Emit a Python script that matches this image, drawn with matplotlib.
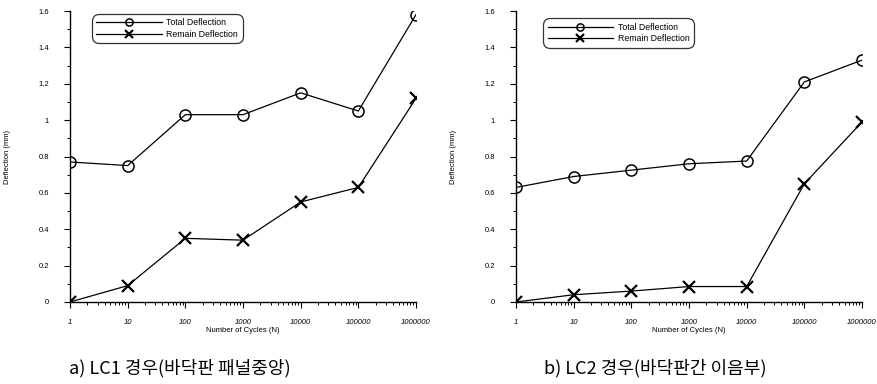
import numpy as np
import matplotlib.pyplot as plt
from matplotlib.ticker import FixedLocator, LogLocator, MultipleLocator

cycles = [1, 10, 100, 1000, 10000, 100000, 1000000]
xtick_labels = ['1', '10', '100', '1000', '10000', '100000', '1000000']
ytick_values = [0, 0.2, 0.4, 0.6, 0.8, 1.0, 1.2, 1.4, 1.6]
ytick_labels = ['0', '0.2', '0.4', '0.6', '0.8', '1', '1.2', '1.4', '1.6']

lc1_total = [0.77, 0.75, 1.03, 1.03, 1.15, 1.05, 1.58]
lc1_remain = [0.0, 0.09, 0.35, 0.34, 0.55, 0.63, 1.12]
lc2_total = [0.63, 0.69, 0.725, 0.76, 0.775, 1.21, 1.33]
lc2_remain = [0.0, 0.04, 0.06, 0.085, 0.085, 0.65, 0.99]

captions = ['a) LC1 경우(바닥판 패널중앙)', 'b) LC2 경우(바닥판간 이음부)']

plt.rcParams['font.family'] = ['Liberation Sans', 'DejaVu Sans']

fig = plt.figure(figsize=(8.78, 3.84), dpi=100)
ax1 = fig.add_axes([70 / 878, 1 - 302 / 384, 346 / 878, 291 / 384])
ax2 = fig.add_axes([516 / 878, 1 - 302 / 384, 346 / 878, 291 / 384])

# legend anchor differs a little between the two panels
panels = [(ax1, lc1_total, lc1_remain, (0.055, 1.0)),
          (ax2, lc2_total, lc2_remain, (0.07, 0.985))]
for ax, total, remain, leganchor in panels:
    ax.plot(cycles, total, color='black', lw=0.9, marker='o', ms=8,
            mfc='none', mec='black', mew=1.1, label='Total Deflection')
    ax.plot(cycles, remain, color='black', lw=0.9, marker='x', ms=8,
            mew=1.6, label='Remain Deflection')
    ax.set_xscale('log')
    ax.set_xlim(1, 1e6)
    ax.set_ylim(0, 1.6)
    for s in ['top', 'right']:
        ax.spines[s].set_visible(False)
    for s in ['left', 'bottom']:
        ax.spines[s].set_linewidth(1.0)
    ax.xaxis.set_major_locator(FixedLocator(cycles))
    ax.set_xticklabels(xtick_labels, fontstyle='italic')
    ax.xaxis.set_minor_locator(LogLocator(base=10, subs=np.arange(2, 10), numticks=20))
    ax.set_yticks(ytick_values)
    ax.set_yticklabels(ytick_labels)
    ax.yaxis.set_minor_locator(MultipleLocator(0.1))
    ax.tick_params(axis='x', which='major', direction='out', length=4, width=0.8,
                   labelsize=5.5, pad=8)
    ax.tick_params(axis='y', which='major', direction='out', length=4, width=0.8,
                   labelsize=5.5, pad=11)
    ax.tick_params(axis='both', which='minor', direction='out', length=2.5, width=0.7)
    ax.set_xlabel('Number of Cycles (N)', fontsize=5.5, labelpad=1)
    ax.set_ylabel('Deflection (mm)', fontsize=5.5, labelpad=20)
    leg = ax.legend(loc='upper left', bbox_to_anchor=leganchor, fontsize=6.3,
                    handlelength=7.5, frameon=True, fancybox=True, edgecolor='black',
                    borderpad=0.35, labelspacing=0.25, handletextpad=0.5,
                    markerscale=0.65)
    leg.get_frame().set_linewidth(0.9)
    leg.get_frame().set_boxstyle('round', pad=0.2, rounding_size=0.8)

fig.text(180 / 878, 1 - 368 / 384, captions[0], fontsize=13, ha='center', va='center',
         family=['Noto Sans CJK KR', 'DejaVu Sans'])
fig.text(655 / 878, 1 - 368 / 384, captions[1], fontsize=13, ha='center', va='center',
         family=['Noto Sans CJK KR', 'DejaVu Sans'])

fig.savefig('out.png', dpi=100)
